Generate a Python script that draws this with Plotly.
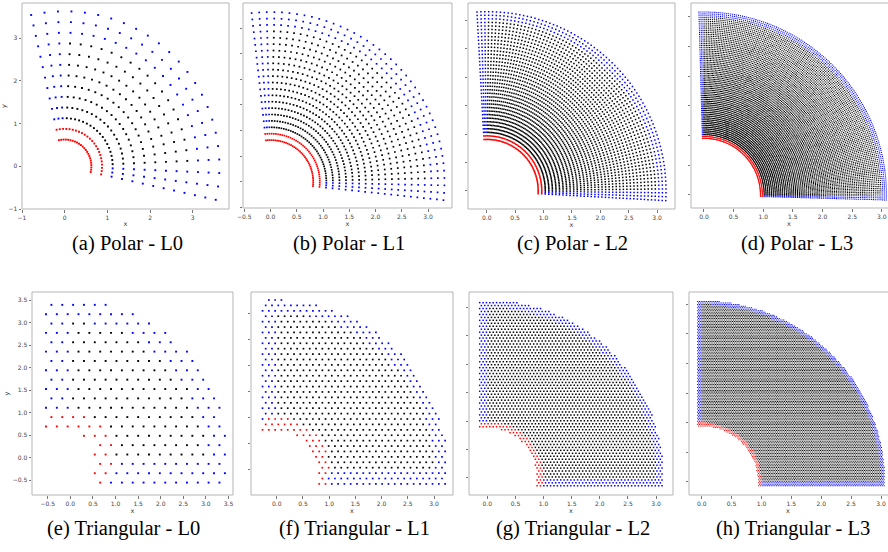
import numpy as np
import plotly.graph_objects as go

# ---------------- data ----------------
level_names = ["L0", "L1", "L2", "L3"]
ring_r_inner = 1.0
ring_r_outer = 3.0

# polar meshes: interior cells between r=1..3 and theta=0..90 deg, plus ghost layers
polar_n_r = [8, 16, 32, 64]
polar_n_theta = [18, 36, 72, 144]
polar_ghost_in = [2, 2, 2, 2]
polar_ghost_out = [3, 3, 3, 3]
polar_ghost_theta = [3, 3, 3, 3]

# triangular meshes: node spacing and ghost-band widths
tri_h = [0.24, 0.12, 0.06, 0.03]
tri_g_side = [0.62, 0.31, 0.16, 0.075]
tri_g_out = [0.5, 0.26, 0.13, 0.065]
tri_g_in = [0.47, 0.24, 0.12, 0.06]

captions_top = ["(a) Polar - L0", "(b) Polar - L1", "(c) Polar - L2", "(d) Polar - L3"]
captions_bottom = ["(e) Triangular - L0", "(f) Triangular - L1",
                   "(g) Triangular - L2", "(h) Triangular - L3"]

marker_size = [1.9, 1.7, 1.5, 1.05]
COL_IN, COL_GHOST, COL_INNER = "black", "#0000ff", "#ff0000"

# ---------------- layout geometry (pixels) ----------------
W, H = 888, 552
boxes_top = [(22, 229, 3, 209), (243, 452, 3, 208), (468, 675, 3, 209), (691, 888, 3, 208)]
boxes_bot = [(32, 233, 292, 495), (251, 453, 292, 495), (469, 673, 292, 495), (689, 888, 292, 495)]
ranges_top = [([-1.0, 3.85], [-1.0, 3.82]), ([-0.525, 3.456], [-0.514, 3.49]),
              ([-0.33, 3.315], [-0.32, 3.31]), ([-0.218, 3.087], [-0.219, 3.23])]
ranges_bot = [([-0.85, 3.60], [-0.83, 3.68]), ([-0.49, 3.36], [-0.49, 3.41]),
              ([-0.325, 3.30], [-0.30, 3.27]), ([-0.212, 3.10], [-0.225, 3.21])]
caption_x_top = [127, 349, 572, 797]
caption_x_bot = [124, 354, 573, 793]


def polar_nodes(i):
    nr, nt = polar_n_r[i], polar_n_theta[i]
    dr = (ring_r_outer - ring_r_inner) / nr
    dt = (np.pi / 2) / nt
    k = np.arange(-polar_ghost_in[i], nr + polar_ghost_out[i])
    m = np.arange(-polar_ghost_theta[i], nt + polar_ghost_theta[i])
    K, M = np.meshgrid(k, m)
    R = ring_r_inner + (K + 0.5) * dr
    T = (M + 0.5) * dt
    X, Y = R * np.cos(T), R * np.sin(T)
    red = K < 0
    blue = (~red) & ((K >= nr) | (M < 0) | (M >= nt))
    black = ~(red | blue)
    return X, Y, black, blue, red


def tri_nodes(i):
    h = tri_h[i]
    g, go_, gi = tri_g_side[i], tri_g_out[i], tri_g_in[i]
    dy = h * np.sqrt(3) / 2
    rows = np.arange(-int(g / dy) - 2, int((ring_r_outer + go_) / dy) + 2)
    cols = np.arange(-int(g / h) - 2, int((ring_r_outer + go_) / h) + 2)
    C, Rw = np.meshgrid(cols, rows)
    X = C * h + (Rw % 2) * h / 2 + h / 4
    Y = Rw * dy + dy / 3
    Rr = np.hypot(X, Y)
    keep = (X >= -g) & (Y >= -g) & (Rr <= ring_r_outer + go_) & (Rr >= ring_r_inner - gi)
    keep &= (X >= 0) | (Y >= ring_r_inner - gi)
    keep &= (Y >= 0) | (X >= ring_r_inner - gi)
    X, Y, Rr = X[keep], Y[keep], Rr[keep]
    red = Rr < ring_r_inner
    blue = (~red) & ((X < 0) | (Y < 0) | (Rr > ring_r_outer))
    black = ~(red | blue)
    return X, Y, black, blue, red


fig = go.Figure()
shapes = []
annotations = []


def fmt(v):
    return ("\u2212" if v < 0 else "") + f"{abs(v):.1f}"


def add_panel(idx, box, rng, nodes, lev, show_ylab, caption, cap_x, cap_y):
    n = idx + 1
    xa = "xaxis" if n == 1 else f"xaxis{n}"
    ya = "yaxis" if n == 1 else f"yaxis{n}"
    xr = "x" if n == 1 else f"x{n}"
    yr = "y" if n == 1 else f"y{n}"
    X, Y, black, blue, red = nodes
    for mask, col in [(black, COL_IN), (blue, COL_GHOST), (red, COL_INNER)]:
        fig.add_trace(go.Scatter(
            x=X[mask].ravel(), y=Y[mask].ravel(), mode="markers",
            marker=dict(size=marker_size[lev], color=col, symbol="square", line=dict(width=0)),
            xaxis=xr, yaxis=yr, showlegend=False, hoverinfo="skip"))
    l, r, t, b = box
    xrng, yrng = rng
    if xrng[0] <= -0.9:
        xt = [-1, 0, 1, 2, 3]
        xtt = ["\u22121", "0", "1", "2", "3"]
        yt = xt
        ytt = xtt
    else:
        xt = [v / 2 for v in range(-2, 8) if xrng[0] <= v / 2 <= xrng[1]]
        xtt = [fmt(v) for v in xt]
        yt = [v / 2 for v in range(-2, 8) if yrng[0] <= v / 2 <= yrng[1]]
        ytt = [fmt(v) for v in yt]
    axis_common = dict(showgrid=False, zeroline=False, showline=False, automargin=False,
                       ticks="outside", ticklen=2.5, tickwidth=0.8, tickcolor="#777",
                       tickfont=dict(family="DejaVu Sans", size=6, color="#444"))
    fig.layout[xa] = dict(domain=[l / W, min(r, 887) / W], range=xrng, anchor=yr,
                          tickmode="array", tickvals=xt, ticktext=xtt,
                          title=dict(text="x", font=dict(family="DejaVu Sans", size=6.5, color="#333"), standoff=1),
                          **axis_common)
    fig.layout[ya] = dict(domain=[1 - b / H, 1 - t / H], range=yrng, anchor=xr,
                          tickmode="array", tickvals=yt,
                          ticktext=ytt if show_ylab else [""] * len(yt),
                          title=dict(text="y" if show_ylab else "",
                                     font=dict(family="DejaVu Sans", size=6.5, color="#333"), standoff=2),
                          **axis_common)
    frame = dict(type="line", line=dict(color="#b5b5b5", width=1), layer="above")
    dx = f"{xr} domain"
    dyr = f"{yr} domain"
    shapes.append(dict(frame, xref=dx, yref=dyr, x0=0, x1=1.01 if r >= W else 1, y0=0, y1=0))
    shapes.append(dict(frame, xref=dx, yref=dyr, x0=0, x1=1.01 if r >= W else 1, y0=1, y1=1))
    shapes.append(dict(frame, xref=dx, yref=dyr, x0=0, x1=0, y0=0, y1=1))
    if r < W:
        shapes.append(dict(frame, xref=dx, yref=dyr, x0=1, x1=1, y0=0, y1=1))
    annotations.append(dict(text=caption, xref="paper", yref="paper",
                            x=cap_x / W, y=1 - cap_y / H,
                            showarrow=False, xanchor="center", yanchor="middle",
                            font=dict(family="Liberation Serif", size=20.5, color="black")))


for i in range(4):
    add_panel(i, boxes_top[i], ranges_top[i], polar_nodes(i), i, i == 0,
              captions_top[i], caption_x_top[i], 244)
for i in range(4):
    add_panel(4 + i, boxes_bot[i], ranges_bot[i], tri_nodes(i), i, i == 0,
              captions_bottom[i], caption_x_bot[i], 528)

fig.update_layout(template="none", width=W, height=H, margin=dict(l=0, r=0, t=0, b=0, pad=0),
                  paper_bgcolor="white", plot_bgcolor="white",
                  shapes=shapes, annotations=annotations, showlegend=False)
fig.write_html("out.html", config={"displayModeBar": False},
               post_script="document.body.style.margin='0px';document.body.style.overflow='hidden';")
